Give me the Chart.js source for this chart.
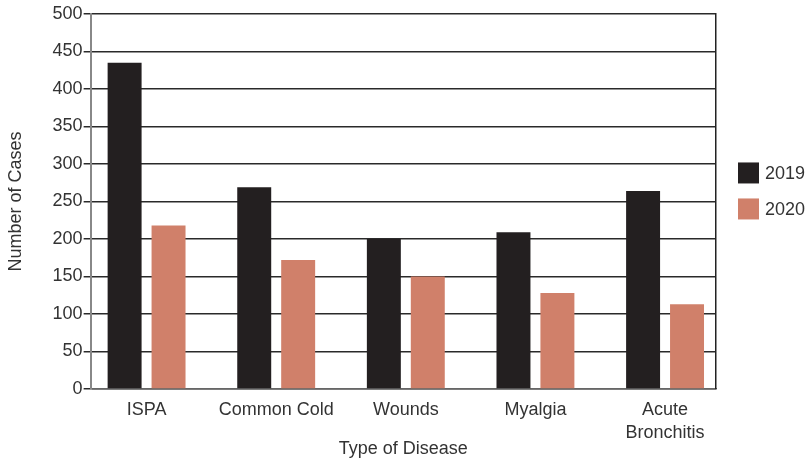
<!DOCTYPE html>
<html>
<head>
<meta charset="utf-8">
<script src="https://cdn.jsdelivr.net/npm/chart.js@4"></script>
<style>
  html, body { margin: 0; padding: 0; background: #fff; }
  #wrap { width: 811px; height: 459px; }
</style>
</head>
<body>
<div id="wrap"><canvas id="myChart"></canvas></div>
<script>
const categories = ["ISPA", "Common Cold", "Wounds", "Myalgia", "Acute Bronchitis"];
const tickLabels = ["ISPA", "Common Cold", "Wounds", "Myalgia", ["Acute", "Bronchitis"]];
const cases2019 = [435, 269, 200, 209, 264];
const cases2020 = [218, 172, 150, 128, 113];
const yTicks = [0, 50, 100, 150, 200, 250, 300, 350, 400, 450, 500];

Chart.defaults.font.family = "'Liberation Sans', Arial, sans-serif";
Chart.defaults.font.size = 18;
Chart.defaults.color = "#333";

// legend drawn at the right of the plot, two swatches stacked
const sideLegend = {
  id: "sideLegend",
  afterDraw(chart) {
    const { ctx, chartArea } = chart;
    const x = chartArea.right + 22;
    let y = (chartArea.top + chartArea.bottom) / 2 - 39;
    ctx.save();
    ctx.font = "18px 'Liberation Sans', Arial, sans-serif";
    ctx.textBaseline = "middle";
    chart.data.datasets.forEach((ds) => {
      ctx.fillStyle = ds.backgroundColor;
      ctx.fillRect(x, y, 21, 21);
      ctx.fillStyle = "#333";
      ctx.fillText(ds.label, x + 27, y + 11.5);
      y += 36;
    });
    ctx.restore();
  },
};

const myChart1 = document.getElementById("myChart");

var myChart = new Chart(myChart1, {
  type: "bar",
  data: {
    datasets: [
      {
        label: "2019",
        data: cases2019.map((v, i) => ({ x: i, y: v })),
        backgroundColor: "#231f20",
      },
      {
        label: "2020",
        data: cases2020.map((v, i) => ({ x: i, y: v })),
        backgroundColor: "#d0806a",
      },
    ],
  },
  options: {
    responsive: true,
    maintainAspectRatio: false,
    animation: false,
    categoryPercentage: 0.678,
    barPercentage: 0.773,
    layout: {
      padding: { left: 0, right: 95, top: 14, bottom: 0 },
    },
    plugins: {
      legend: { display: false },
      tooltip: { enabled: false },
    },
    scales: {
      x: {
        type: "linear",
        offset: false,
        min: -0.4316,
        max: 4.393,
        afterBuildTicks: (axis) => {
          axis.ticks = categories.map((c, i) => ({ value: i }));
        },
        ticks: {
          padding: 9.5,
          maxRotation: 0,
          font: { size: 18, lineHeight: 1.28 },
          callback: (v) => tickLabels[v],
        },
        grid: { display: false, drawTicks: false },
        border: { color: "#666", width: 1.5 },
        title: {
          display: true,
          text: "Type of Disease",
          font: { size: 18, lineHeight: 1.2 },
          // title tucked up close under the two-line category labels
          padding: { top: -15.3, bottom: -1.3 },
        },
      },
      y: {
        min: 0,
        max: 500,
        afterBuildTicks: (axis) => {
          axis.ticks = yTicks.map((v) => ({ value: v }));
        },
        ticks: { padding: 1 },
        grid: {
          color: "#2a2a2a",
          lineWidth: 1.5,
          tickLength: 7,
        },
        border: { color: "#888", width: 2 },
        title: {
          display: true,
          text: "Number of Cases",
          font: { size: 18, lineHeight: 1.2 },
          padding: { top: 5, bottom: 25 },
        },
      },
      y2: {
        position: "right",
        min: 0,
        max: 500,
        ticks: { display: false },
        grid: { drawOnChartArea: false, drawTicks: false },
        border: { color: "#222", width: 1.5 },
      },
    },
  },
  plugins: [sideLegend],
});
</script>
</body>
</html>
